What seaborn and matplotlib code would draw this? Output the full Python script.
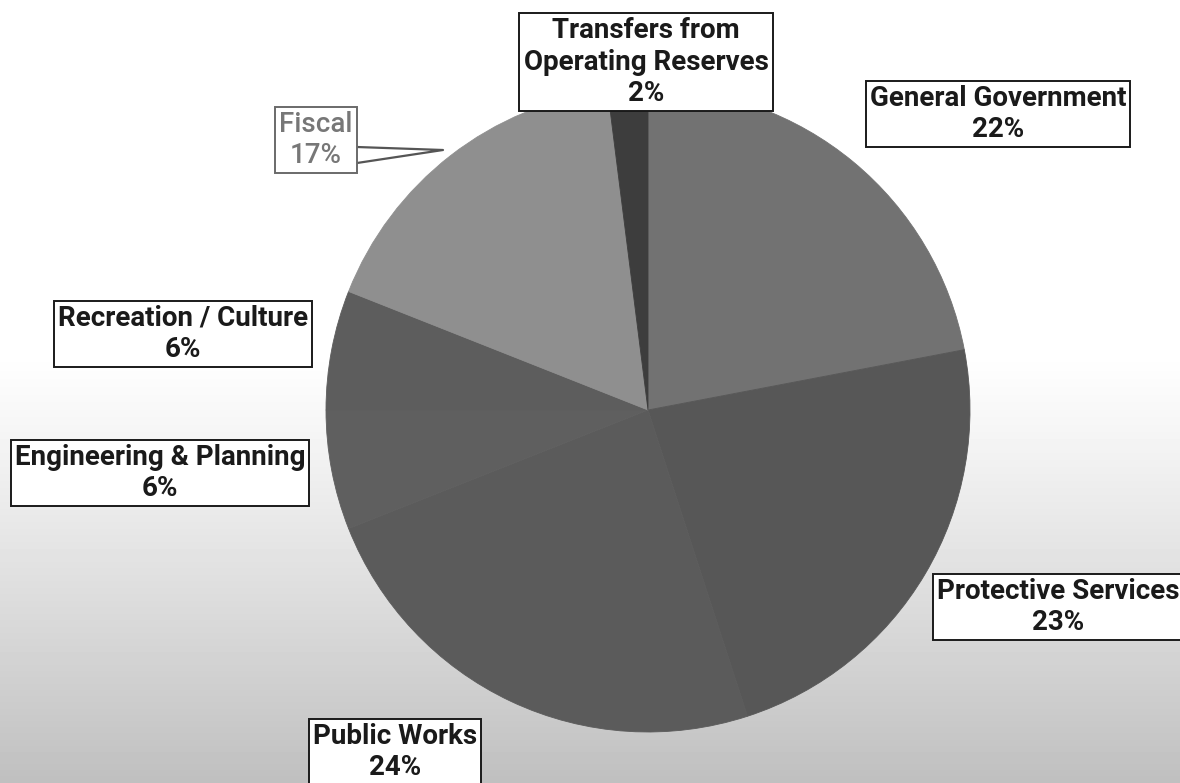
import numpy as np
import matplotlib
matplotlib.use("Agg")
import matplotlib.pyplot as plt
import seaborn as sns

# Budget shares by department (percent), clockwise from 12 o'clock
departments = [
    "General Government",
    "Protective Services",
    "Public Works",
    "Engineering & Planning",
    "Recreation / Culture",
    "Fiscal",
    "Transfers from\nOperating Reserves",
]
shares = [22, 23, 24, 6, 6, 17, 2]
slice_colors = ["#727272", "#575757", "#5b5b5b", "#5f5f5f", "#5d5d5d", "#8f8f8f", "#3d3d3d"]

sns.set_theme(style="white")
plt.rcParams["font.family"] = ["Roboto", "DejaVu Sans"]

W, H = 1180, 783
fig = plt.figure(figsize=(W / 100, H / 100), dpi=100)
ax = fig.add_axes([0, 0, 1, 1])

# grey wash across the lower part of the page (row 0 = top)
rows = np.linspace(0, 1, H)
t = np.clip((rows - 0.45) / 0.55, 0, 1)
shade = 1.0 - 0.25 * t ** 1.1
grad = np.tile(shade[:, None], (1, 10))
ax.imshow(grad, cmap="gray", vmin=0, vmax=1, extent=[0, W, 0, H],
          origin="upper", aspect="auto", zorder=0)

cx, cy, r = 648, H - 410, 322
wedges, _ = ax.pie(shares, colors=slice_colors, startangle=90, counterclock=False,
                   center=(cx, cy), radius=r, frame=True,
                   wedgeprops=dict(linewidth=0.6, zorder=2))
for w, c in zip(wedges, slice_colors):
    w.set_edgecolor(c)
ax.set_xlim(0, W)
ax.set_ylim(0, H)
ax.set_aspect("equal")
ax.axis("off")

# label boxes: (text x, text y in pixels from top, text colour, edge colour)
placements = {
    "General Government": (998, 114, "#1a1a1a", "#1a1a1a"),
    "Protective Services": (1058, 607, "#1a1a1a", "#1a1a1a"),
    "Public Works": (395, 752, "#1a1a1a", "#1a1a1a"),
    "Engineering & Planning": (160, 473, "#1a1a1a", "#1a1a1a"),
    "Recreation / Culture": (183, 334, "#1a1a1a", "#1a1a1a"),
    "Fiscal": (316, 140, "#777777", "#6a6a6a"),
    "Transfers from\nOperating Reserves": (646, 62, "#1a1a1a", "#1a1a1a"),
}

for name, val in zip(departments, shares):
    x, y, tc, ec = placements[name]
    weight = "medium" if name == "Fiscal" else "bold"
    ax.text(x, H - y, f"{name}\n{val}%", ha="center", va="center",
            fontsize=20, fontweight=weight, color=tc, linespacing=1.22,
            zorder=5,
            bbox=dict(boxstyle="square,pad=0.15", facecolor="white",
                      edgecolor=ec, linewidth=1.4))

# callout leader from the Fiscal label to its slice
ax.plot([357, 443, 357], [H - 147, H - 150, H - 163], color="#555555", lw=1.6, zorder=4)

fig.savefig("out.png", dpi=100)
